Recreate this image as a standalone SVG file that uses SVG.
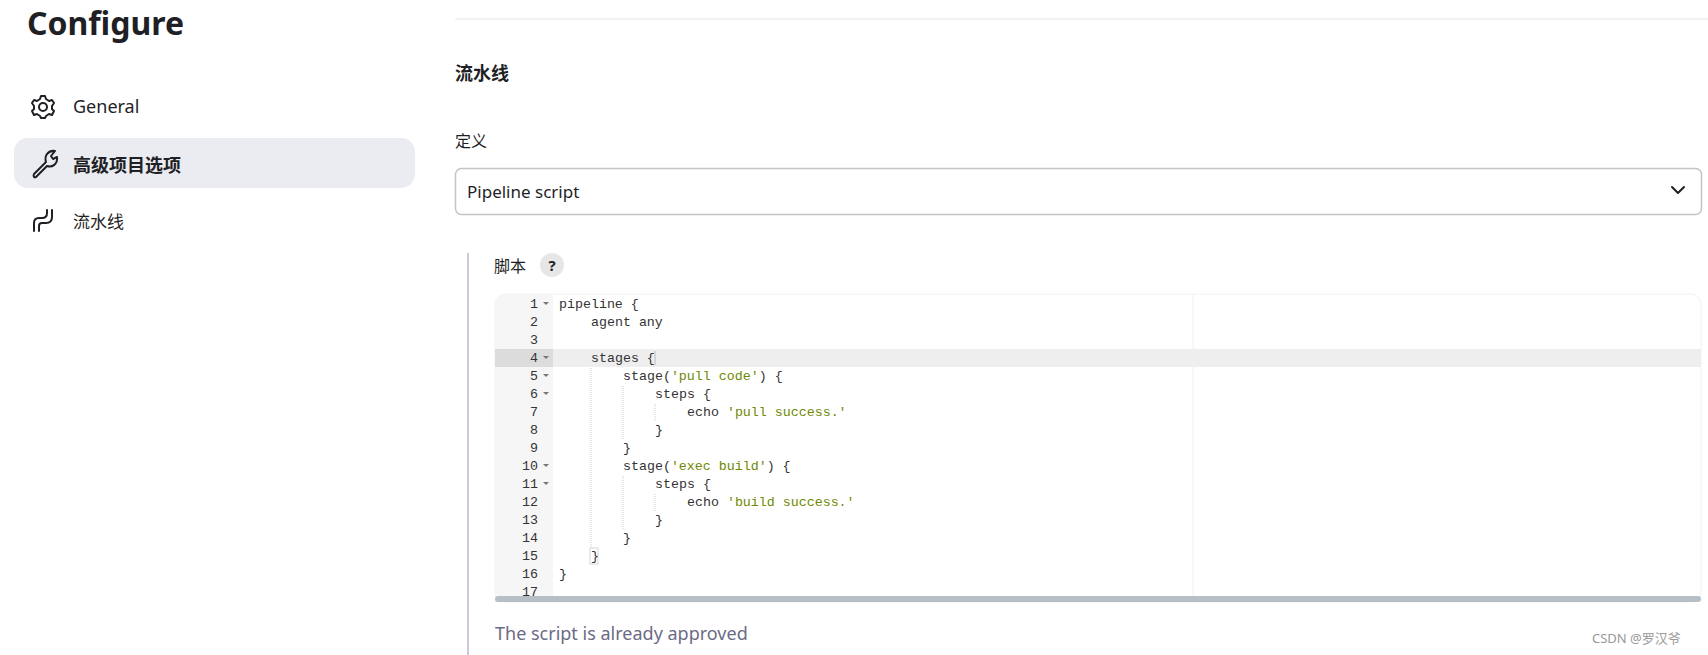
<svg xmlns="http://www.w3.org/2000/svg" width="1708" height="655" viewBox="0 0 1708 655">
<style>
.ui{font-family:"Noto Sans","Noto Sans CJK SC",sans-serif;fill:#1f1f26}
.code{font-family:"Liberation Mono","DejaVu Sans Mono",monospace;font-size:13.3px;fill:#333}
.ln{font-family:"Liberation Mono","DejaVu Sans Mono",monospace;font-size:13.3px;fill:#333;text-anchor:end}
.s{fill:#6d8a00}
.ico{fill:none;stroke:#1f1f26;stroke-width:2;stroke-linecap:round;stroke-linejoin:round}
.guide{stroke:#ccc;stroke-width:1;stroke-dasharray:1 1}
.fold{fill:#777}
</style>
<rect width="1708" height="655" fill="#fff"/>
<g id="sidebar">
<text class="ui" x="27" y="35" font-size="32" font-weight="700">Configure</text>
<g id="nav-general">
<g class="ico" transform="translate(43,107)"><circle r="4"/><path d="M-2,-11 L2,-11 L3,-8 L6,-6 L9,-7 L11,-4 L9,-1 L9,2 L11,4 L9,8 L6,7 L3,9 L2,11 L-2,11 L-3,9 L-6,7 L-9,8 L-11,4 L-9,2 L-9,-1 L-11,-4 L-9,-7 L-6,-6 L-3,-8 Z"/></g>
<text class="ui" x="73" y="113" font-size="18">General</text>
</g>
<g id="nav-advanced">
<rect x="14" y="138" width="401" height="50" rx="14" fill="#ebecf1"/>
<path class="ico" d="M34,174 L46,162 C44,156 48,150 55,151 L51,156 L53,159 L57,157 C58,164 52,168 47,166 L36,177 C34,178 33,176 34,174 Z"/>
<text class="ui" x="73" y="172" font-size="18" font-weight="700">高级项目选项</text>
</g>
<g id="nav-pipeline">
<path class="ico" d="M34,231 L34,223 C34,220 36,218 39,218 L42,218"/>
<path class="ico" d="M39,231 L39,226 C39,224 40,223 42,223 L46,223 C50,223 52,221 52,217 L52,210"/>
<path class="ico" d="M42,218 C45,218 47,216 47,213 L47,210"/>
<text class="ui" x="73" y="228" font-size="17">流水线</text>
</g>
</g>
<g id="main">
<line x1="455" y1="19" x2="1708" y2="19" stroke="#eeeeee" stroke-width="1.5"/>
<text class="ui" x="455" y="80" font-size="18" font-weight="700">流水线</text>
<text class="ui" x="455" y="147" font-size="16">定义</text>
<g id="select">
<rect x="455.5" y="168.5" width="1246" height="46" rx="6" fill="#fff" stroke="#c4c4c8" stroke-width="1.5"/>
<text class="ui" x="467" y="198" font-size="17">Pipeline script</text>
<path class="ico" d="M1672,187 L1678,193 L1684,187"/>
</g>
<line x1="468" y1="253" x2="468" y2="655" stroke="#c9ccd6" stroke-width="2"/>
<text class="ui" x="494" y="272" font-size="16">脚本</text>
<circle cx="552" cy="265" r="12" fill="#e6e6e6"/>
<text class="ui" x="552" y="271" font-size="15" font-weight="700" text-anchor="middle">?</text>
<g id="editor">
<rect x="495" y="294" width="1206" height="308" rx="10" fill="#fff" stroke="#f2f2f2"/>
<path d="M505,294 L553,294 L553,602 L495,602 L495,304 Q495,294 505,294 Z" fill="#f6f6f6"/>
<rect x="495" y="349" width="58" height="18" fill="#dcdcdc"/>
<rect x="553" y="349" width="1148" height="18" fill="#eeeeee"/>
<line x1="1193" y1="294" x2="1193" y2="597" stroke="#f0f0f0"/>
<rect x="495" y="596" width="1206" height="6" rx="3" fill="#b7bfc6"/>
<g class="ln">
<text x="538" y="308">1</text><text x="538" y="326">2</text><text x="538" y="344">3</text><text x="538" y="362">4</text><text x="538" y="380">5</text><text x="538" y="398">6</text><text x="538" y="416">7</text><text x="538" y="434">8</text><text x="538" y="452">9</text><text x="538" y="470">10</text><text x="538" y="488">11</text><text x="538" y="506">12</text><text x="538" y="524">13</text><text x="538" y="542">14</text><text x="538" y="560">15</text><text x="538" y="578">16</text><text x="538" y="596">17</text>
</g>
<g class="fold">
<path d="M543,302 L549,302 L546,305Z"/><path d="M543,356 L549,356 L546,359Z"/><path d="M543,374 L549,374 L546,377Z"/><path d="M543,392 L549,392 L546,395Z"/><path d="M543,464 L549,464 L546,467Z"/><path d="M543,482 L549,482 L546,485Z"/>
</g>
<g>
<line class="guide" x1="591" y1="368" x2="591" y2="548"/>
<line class="guide" x1="623" y1="386" x2="623" y2="440"/>
<line class="guide" x1="623" y1="476" x2="623" y2="530"/>
<line class="guide" x1="655" y1="404" x2="655" y2="422"/>
<line class="guide" x1="655" y1="494" x2="655" y2="512"/>
<rect x="590" y="548" width="8" height="16" fill="none" stroke="#ccc" stroke-width="0.8"/>
<line x1="655" y1="351" x2="655" y2="365" stroke="#bbb"/>
</g>
<g class="code">
<text x="559" y="308">pipeline {</text>
<text x="591" y="326">agent any</text>
<text x="591" y="362">stages {</text>
<text x="623" y="380">stage(<tspan class="s">'pull code'</tspan>) {</text>
<text x="655" y="398">steps {</text>
<text x="687" y="416">echo <tspan class="s">'pull success.'</tspan></text>
<text x="655" y="434">}</text>
<text x="623" y="452">}</text>
<text x="623" y="470">stage(<tspan class="s">'exec build'</tspan>) {</text>
<text x="655" y="488">steps {</text>
<text x="687" y="506">echo <tspan class="s">'build success.'</tspan></text>
<text x="655" y="524">}</text>
<text x="623" y="542">}</text>
<text x="591" y="560">}</text>
<text x="559" y="578">}</text>
</g>
</g>
<text class="ui" x="495" y="640" font-size="18" style="fill:#6b6b85">The script is already approved</text>
<text class="ui" x="1592" y="643" font-size="13" style="fill:#999">CSDN @罗汉爷</text>
</g>
</svg>
